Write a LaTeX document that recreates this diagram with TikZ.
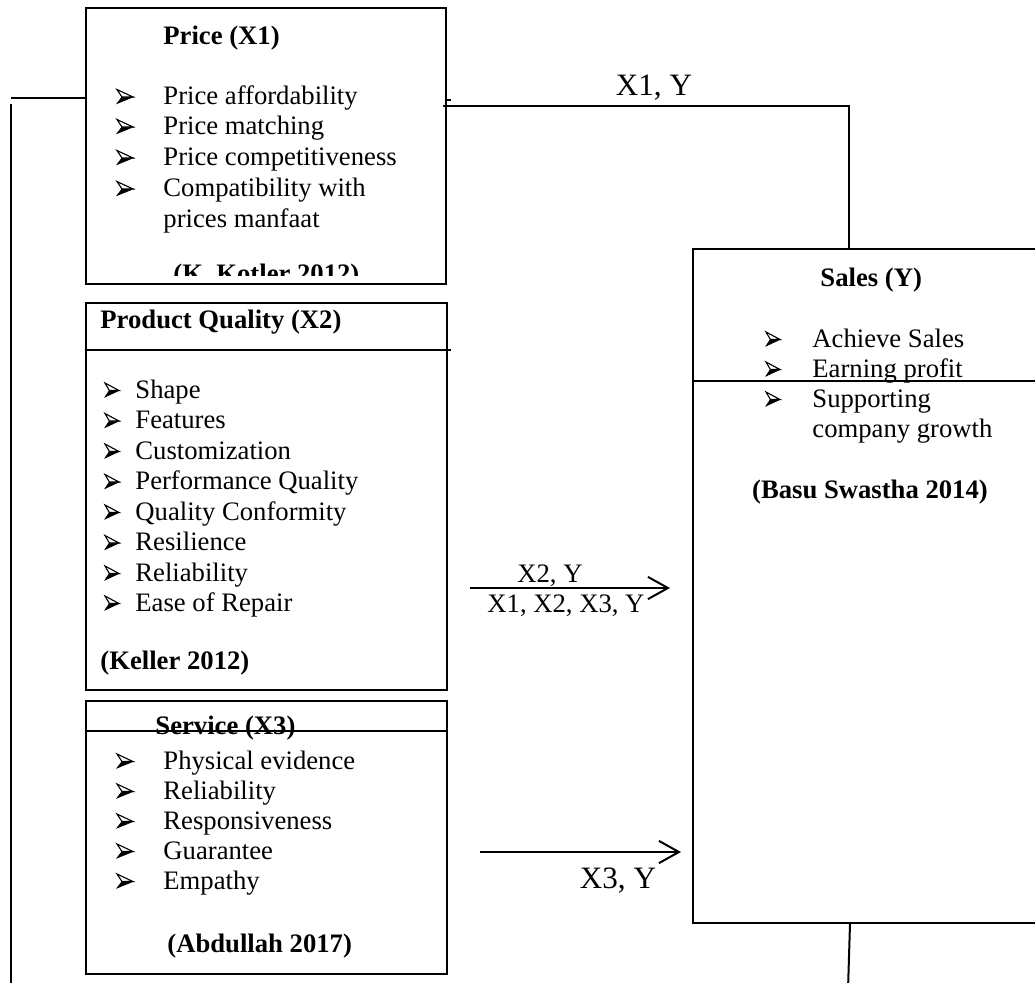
\documentclass[tikz,border=0pt]{standalone}
\usepackage{fontspec}
\setmainfont{Liberation Serif}
\usetikzlibrary{arrows.meta,fit}
\begin{document}
\begin{tikzpicture}[x=0.45pt,y=-0.45pt,
  box/.style={draw,line width=0.9pt,inner sep=0pt},
  conn/.style={line width=0.9pt},
  arr/.style={conn,-{Straight Barb[length=9pt,width=10pt,line width=0.9pt]}},
  txt/.style={anchor=base west,inner sep=0pt,font=\fontsize{12}{14}\selectfont},
  btxt/.style={txt,font=\fontsize{12}{14}\selectfont\bfseries},
  ctxt/.style={anchor=base,inner sep=0pt,font=\fontsize{12}{14}\selectfont},
  bctxt/.style={ctxt,font=\fontsize{12}{14}\selectfont\bfseries},
  bigtxt/.style={anchor=base,inner sep=0pt,font=\fontsize{14}{16}\selectfont},
  bul/.pic={
    \filldraw[line width=0.3pt] (0,-1) -- (5,-7.5) -- (16,-7.5) -- cycle;
    \draw[line width=0.5pt,fill=white] (0,-15) -- (16,-7.5) -- (5,-7.5) -- cycle;
  }
]
\useasboundingbox (0,0) rectangle (1035,982);

% ---------- Price box ----------
\node[box,fit={(86,8) (446,284)}] (price) {};
\node[btxt] (ptitle) at (163,44) {Price (X1)};
\foreach \t/\yy [count=\i] in {Price affordability/104.5, Price matching/134.5, Price competitiveness/165.5, Compatibility with/196.5}{
  \pic at (117,\yy) {bul};
  \node[txt] (pi\i) at (163,\yy) {\t};
}
\node[txt] (pi5) at (163,227) {prices manfaat};
\begin{scope}
  \clip (86,8) rectangle (446,275);
  \node[btxt] (pref) at (173,282) {(K. Kotler 2012)};
\end{scope}

% ---------- Product Quality box ----------
\node[box,fit={(86,303) (447,690)}] (prod) {};
\node[btxt] (qtitle) at (100,328) {Product Quality (X2)};
\foreach \t/\yy [count=\i] in {Shape/398, Features/428.5, Customization/459, Performance Quality/489.5, Quality Conformity/520, Resilience/550.5, Reliability/581, Ease of Repair/611}{
  \pic[xscale=0.875] at (105,\yy) {bul};
  \node[txt] (qi\i) at (135,\yy) {\t};
}
\node[btxt] (qref) at (100,669) {(Keller 2012)};
\draw[conn] (prod.west |- 0,350) -- (451,350);

% ---------- Service box ----------
\node[box,fit={(86,701) (447,974)}] (serv) {};
\node[btxt] (stitle) at (155,734) {Service (X3)};
\foreach \t/\yy [count=\i] in {Physical evidence/769, Reliability/799, Responsiveness/829, Guarantee/859, Empathy/889}{
  \pic at (117,\yy) {bul};
  \node[txt] (si\i) at (163,\yy) {\t};
}
\node[btxt] (sref) at (167,952) {(Abdullah 2017)};
\draw[conn] (serv.west |- 0,731) -- (serv.east |- 0,731);

% ---------- Sales box ----------
\node[box,fit={(693,249) (1060,923)}] (sales) {};
\node[btxt] (ytitle) at (820,286) {Sales (Y)};
\foreach \t/\yy [count=\i] in {Achieve Sales/347, Earning profit/377, Supporting/407}{
  \pic[xscale=0.875] at (766,\yy) {bul};
  \node[txt] (yi\i) at (812,\yy) {\t};
}
\node[txt] (yi4) at (812,437) {company growth};
\node[bctxt] (yref) at (870,498) {(Basu Swastha 2014)};
\draw[conn] (sales.west |- 0,381) -- (1040,381);

% ---------- connectors ----------
\coordinate (L1) at (11,97.5);
\coordinate (L2) at (11,104);
\coordinate (L3) at (11,990);
\draw[conn] (price.west |- L1) -- (L1);
\draw[conn] (L2) -- (L3);

\coordinate (R1) at (443,105.5);
\coordinate (R2) at (849,105.5);
\draw[conn] (445,99.5) -- (451,99.5);
\draw[conn] (R1) -- (R2) -- (R2 |- sales.north);
\node[bigtxt] (lx1) at (654,95) {X1, Y};

\coordinate (A1s) at (470,588);
\coordinate (A1e) at (670,588);
\draw[arr] (A1s) -- (A1e);
\node[ctxt] (lx2) at (550,582) {X2, Y};
\node[ctxt] (lx123) at (566,612.5) {X1, X2, X3, Y};

\coordinate (A2s) at (480,852);
\coordinate (A2e) at (681,852);
\draw[arr] (A2s) -- (A2e);
\node[bigtxt] (lx3) at (618,888) {X3, Y};

\coordinate (B1) at (848,990);
\draw[conn] (sales.south -| 850,0) -- (B1);
\end{tikzpicture}
\end{document}
